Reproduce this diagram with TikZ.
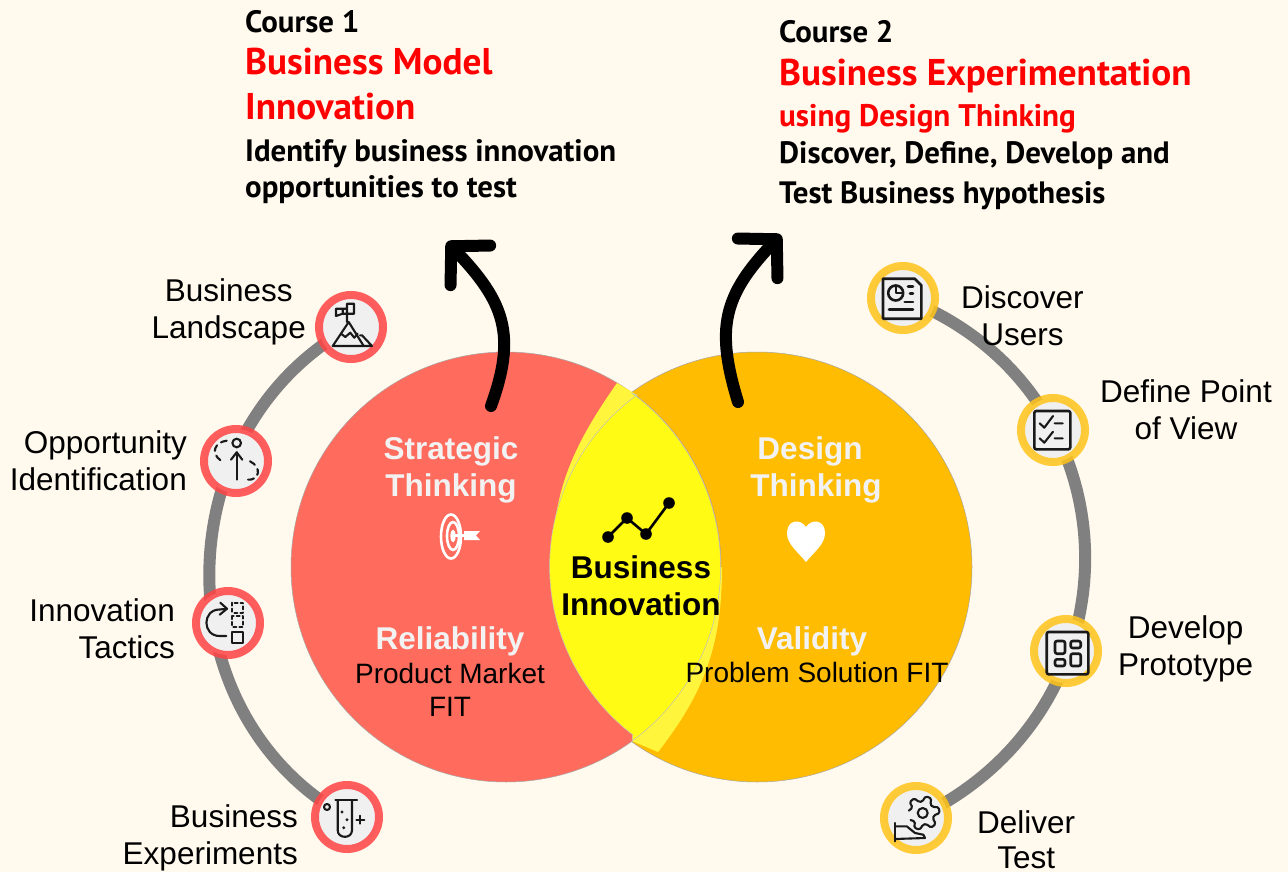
\documentclass[tikz,border=0pt]{standalone}
\usepackage{fontspec}
\setmainfont{Liberation Sans}
\newfontfamily\dinfont{PT Sans}
\usetikzlibrary{arrows.meta,bending,positioning,backgrounds,shapes.geometric}
\definecolor{paper}{HTML}{FFF9EE}
\definecolor{redc}{HTML}{FF6B5C}
\definecolor{orangec}{HTML}{FFBC00}
\definecolor{lensc}{HTML}{FFFB14}
\definecolor{palec}{HTML}{FFF53C}
\definecolor{redrim}{HTML}{FF4343}
\definecolor{yellowrim}{HTML}{FFC41A}
\definecolor{spotc}{HTML}{F0F0F0}
\definecolor{softw}{HTML}{F2F2F2}
\tikzstyle{bigcircle} = [circle, minimum size=430pt, inner sep=0pt, draw=black!35, line width=.5pt]
\tikzstyle{spot} = [circle, minimum size=64pt, inner sep=0pt, fill=spotc, line width=8pt, draw opacity=.85]
\tikzstyle{redspot} = [spot, draw=redrim]
\tikzstyle{yellowspot} = [spot, draw=yellowrim]
\tikzstyle{label} = [align=center, inner sep=0pt, font=\fontsize{31.5}{37}\selectfont]
\tikzstyle{labelr} = [label, align=right]
\tikzstyle{inner} = [align=center, inner sep=0pt, text=softw, font=\bfseries\fontsize{31.5}{37}\selectfont]
\tikzstyle{innerfit} = [align=center, inner sep=0pt, font=\fontsize{28}{33}\selectfont]
\tikzstyle{coursesub} = [anchor=base west, inner sep=0pt, font=\dinfont\bfseries\fontsize{30.9}{36}\selectfont]
\tikzstyle{coursetitle} = [coursesub, text=red, font=\dinfont\bfseries\fontsize{37.2}{40}\selectfont]
\tikzstyle{ringline} = [draw=black!50, line width=12pt]
\tikzstyle{bigarrow} = [line width=12pt, line cap=round, -{Straight Barb[flex=0,length=27pt,width=56pt,line width=12pt,round]}]
\tikzstyle{iconline} = [draw=black!90, line width=2.1pt, line cap=round, line join=round]
\begin{document}
\begin{tikzpicture}[x=1pt,y=1pt,node distance=10pt]
\useasboundingbox (0,0) rectangle (1288,-872);
% venn
\node (design) [bigcircle, fill=orangec] at (757,-567) {};
\node (strategic) [bigcircle, fill=redc] at (506,-567) {};
\fill[palec] (617,-383) to[out=235,in=90] (552,-567) -- (640,-567) -- (637,-395) -- cycle;
\fill[palec] (658,-752) to[out=52,in=-90] (722,-567) -- (640,-600) -- (632,-741) -- cycle;
\path[fill=lensc, draw=black!25, line width=.5pt] (632,-741) arc[start angle=-54, end angle=54, radius=215] -- (637,-395) arc[start angle=126, end angle=232.6, radius=212] -- cycle;
% centre texts
\node (stratext) [inner] at (451,-470) {Strategic\\Thinking};
\node (destext) [inner] at (816,-470) {Design\hspace*{12pt}\\Thinking};
\node (biztext) [inner, text=black] at (641,-586) {Business\\Innovation};
\node (reliability) [inner] at (450,-641) {Reliability};
\node (relfit) [innerfit, below=7pt of reliability] {Product Market\\FIT};
\node (validity) [inner] at (812,-641) {Validity};
\node (valfit) [innerfit, below=6pt of validity, xshift=5pt] {Problem Solution FIT};
% icons inside the circles
\draw[white, line width=2.6pt] (451,-536.5) ellipse [x radius=10, y radius=22];
\draw[white, line width=2.6pt] (453,-536) ellipse [x radius=6, y radius=14];
\fill[white] (453,-536) ellipse [x radius=2.6, y radius=6.5];
\draw[white, line width=2.6pt] (453,-535.5) -- (472,-535.5);
\fill[white] (464,-531) -- (480,-531) -- (476,-535.5) -- (480,-540) -- (464,-540) -- cycle;
\begin{scope}[shift={(806,-542)}]
\fill[white] (0,15) .. controls (-6,24) and (-19,22) .. (-19,9) .. controls (-19,-2) and (-9,-9) .. (0,-20) .. controls (9,-9) and (19,-2) .. (19,9) .. controls (19,22) and (6,24) .. (0,15) -- cycle;
\end{scope}
\draw[line width=2.6pt] (608,-537) -- (627,-518) -- (646,-534) -- (669,-503);
\foreach \pos in {(608,-537),(627,-518),(646,-534),(669,-503)}
  \fill \pos circle (5.8);
% left ring spots
\node (landscape) [redspot] at (351,-327) {};
\node (opportunity) [redspot] at (236,-461) {};
\node (tactics) [redspot] at (228,-623) {};
\node (experiments) [redspot] at (347,-817) {};
\node (landlabel) [label, left=9pt of landscape, yshift=15pt] {Business\\Landscape};
\node (opplabel) [labelr, left=13pt of opportunity] {Opportunity\\Identification};
\node (taclabel) [labelr, left=17pt of tactics, yshift=-6pt] {Innovation\\Tactics};
\node (explabel) [labelr, left=13pt of experiments, yshift=-21pt] {Business\\Experiments};
% right ring spots
\node (discover) [yellowspot] at (903,-298) {};
\node (define) [yellowspot] at (1053,-430) {};
\node (develop) [yellowspot] at (1066,-651) {};
\node (deliver) [yellowspot] at (916,-818) {};
\node (dislabel) [label, right=22pt of discover, yshift=-18pt] {Discover\\Users};
\node (deflabel) [label, right=11pt of define, yshift=20pt] {Define Point\\of View};
\node (devlabel) [label, right=16pt of develop, yshift=2pt] {Develop\\Prototype};
\node (dellabel) [label, right=25pt of deliver, yshift=-22pt, font=\fontsize{31.5}{35}\selectfont] {Deliver\\Test};
% rings go under the spots
\begin{scope}[on background layer]
\fill[paper] (0,0) rectangle (1288,-872);
\draw[ringline] (landscape.center) to[out=209,in=151,looseness=1.11] (experiments.center);
\draw[ringline] (discover.center) to[out=-21,in=25,looseness=1.25] (deliver.center);
\end{scope}
% spot icons
\begin{scope}[shift={(landscape.center)}]
\draw[iconline] (-4,5) -- (-4,23.3) -- (3,23.3) -- (3,13.3) -- (-8.3,13.3) -- (-8.3,18.3) (-8.3,13.3) -- (-15,11) -- (-15,18.3) -- (-4,18.3);
\draw[iconline] (-18.3,-19) -- (-2.3,5) -- (12.7,-19);
\draw[iconline] (9,-8.3) -- (11,-8.3) -- (21,-19) -- (-18.3,-19);
\draw[iconline] (-10,-6.7) -- (-5.7,-10) -- (-.7,-5.7) -- (3.3,-10.7) -- (6.7,-6.7);
\end{scope}
\begin{scope}[shift={(opportunity.center)}]
\draw[iconline] (.7,18) circle (4.3);
\draw[iconline] (.7,-18.7) -- (.7,8.7);
\draw[iconline] (-5,1.3) -- (.7,8.7) -- (6.3,1.3);
\draw[iconline, dash pattern=on 6pt off 5pt] (-9.3,20.3) .. controls (-21,19) and (-26,8) .. (-15,.3);
\draw[iconline, dash pattern=on 6pt off 5pt] (14,-.3) .. controls (26,-6) and (24,-20) .. (10.7,-18.7);
\end{scope}
\begin{scope}[shift={(tactics.center)}]
\draw[iconline] (-1.7,-13) -- (-8.3,-13) .. controls (-26,-13) and (-26,13.5) .. (-8.3,13.5) -- (-1,14.3);
\draw[iconline] (-7.7,20.3) -- (-1,14.3) -- (-8.3,8.3);
\draw[iconline, dash pattern=on 3pt off 3pt] (4.3,20.3) rectangle (15,10.3);
\draw[iconline, dash pattern=on 3pt off 3pt] (4.3,7) rectangle (15,-4);
\draw[iconline] (4.3,-9) rectangle (15,-19.7);
\end{scope}
\begin{scope}[shift={(experiments.center)}]
\draw[iconline] (-11.7,16.7) -- (10,16.7);
\draw[iconline] (-9.3,16.7) -- (-9.3,-13.3) .. controls (-9.3,-22) and (5,-22) .. (5,-13.3) -- (5,16.7);
\foreach \pos in {(-5,5),(0,-2.7),(-3.3,-10.7)}
  \fill[black!88] \pos circle (1.6);
\draw[iconline] (-20,10) circle (3);
\draw[iconline] (9.3,-2.7) -- (17.3,-2.7) (13.3,-6.7) -- (13.3,1.3);
\end{scope}
\begin{scope}[shift={(discover.center)}]
\draw[iconline, line width=2.6pt] (-20,19.3) -- (11.7,19.3) -- (18.3,12.7) -- (18.3,-20.7) -- (-20,-20.7) -- cycle;
\draw[iconline, line width=2.6pt] (-7.3,5) circle (7.5);
\draw[iconline] (-7.3,12.5) -- (-7.3,5) -- (0,5);
\draw[iconline, line width=2.6pt] (-14,-11.7) -- (10,-11.7) (5,11.7) -- (10,11.7) (7,4.3) -- (10,4.3) (1.7,-4) -- (10,-4);
\end{scope}
\begin{scope}[shift={(define.center)}]
\draw[iconline, line width=2.6pt, rounded corners=2pt] (-18.7,19) rectangle (17.3,-19.3);
\draw[iconline] (-13.3,6.7) -- (-8.7,2.3) -- (0,14) (1.7,6.7) -- (9.7,6.7);
\draw[iconline] (-13.3,-8.3) -- (-8.7,-12.7) -- (0,-1.7) (1.7,-8.3) -- (9.7,-8.3);
\end{scope}
\begin{scope}[shift={(develop.center)}]
\draw[iconline, line width=2.6pt, rounded corners=2pt] (-19.3,19) rectangle (22.3,-23.3);
\draw[iconline, line width=2.6pt, rounded corners=2pt] (-11,10) rectangle (-1,-2.7);
\draw[iconline, line width=2.6pt, rounded corners=2pt] (4.7,10) rectangle (14.7,3);
\draw[iconline, line width=2.6pt, rounded corners=2pt] (-11,-8.3) rectangle (-1,-15);
\draw[iconline, line width=2.6pt, rounded corners=2pt] (4.7,-2.7) rectangle (14.7,-15);
\end{scope}
\begin{scope}[shift={(deliver.center)}]
\draw[iconline] (6.7,5) circle (5);
\draw[iconline, shift={(6.7,5)}, rounded corners=1.5pt] (-150:14)
  \foreach \a in {-110,-50,10,70,130} { -- (\a-22:11.5) -- (\a-10:17) -- (\a+10:17) -- (\a+22:11.5) }
  -- (170:14);
\draw[iconline] (-21,-5) -- (-21,-23.3);
\draw[iconline] (-21,-8.3) -- (-9.3,-8.3) -- (-1,-15) -- (7.3,-16.7) -- (9,-20) -- (-21,-21);
\end{scope}
% course arrows
\coordinate (stratout) at (491,-406);
\coordinate (stratend) at (447,-242);
\coordinate (desout) at (738,-402);
\coordinate (desend) at (781,-235);
\draw[bigarrow] (stratout) to[out=70,in=-45,looseness=1.2] (stratend);
\draw[bigarrow] (desout) to[out=107,in=225,looseness=1.2] (desend);
% course texts
\node (c1) [coursesub] at (245,-33) {Course 1};
\node (c1t) [coursetitle] at (245,-75) {Business Model};
\node (c1u) [coursetitle] at (245,-120) {Innovation};
\node (c1a) [coursesub] at (245,-161) {Identify business innovation};
\node (c1b) [coursesub] at (245,-197) {opportunities to test};
\node (c2) [coursesub] at (779,-43) {Course 2};
\node (c2t) [coursetitle] at (779,-86) {Business Experimentation};
\node (c2u) [coursetitle, font=\dinfont\bfseries\fontsize{31.2}{36}\selectfont] at (779,-127) {using Design Thinking};
\node (c2a) [coursesub] at (779,-164) {Discover, Define, Develop and};
\node (c2b) [coursesub] at (779,-203) {Test Business hypothesis};
\end{tikzpicture}
\end{document}
